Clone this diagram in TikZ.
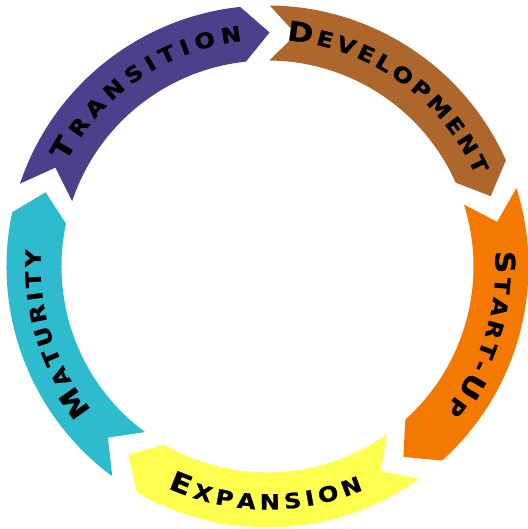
\documentclass[tikz,border=0pt]{standalone}
\usepackage{fontspec}
\newfontfamily\copfont{DejaVu Sans}[FakeStretch=1.15, BoldFeatures={FakeBold=1}]
\newcommand\fstr{1.15}
\newcommand\szb{27}
\newcommand\szs{21}
\newcommand\fntb{\copfont\bfseries\fontsize{27pt}{27pt}\selectfont}
\newcommand\fnts{\copfont\bfseries\fontsize{21pt}{21pt}\selectfont}
\newcommand\lspn{3.5}
\definecolor{cpurple}{RGB}{75,64,140}
\definecolor{cbrown}{RGB}{173,103,44}
\definecolor{corange}{RGB}{243,121,0}
\definecolor{cyellow}{RGB}{255,255,80}
\definecolor{cteal}{RGB}{46,187,205}
\newcommand\Ro{261pt}
\newcommand\Ri{206pt}
\newcommand\Rt{234pt}
% #1 colour, #2 tail angle
\newcommand\arrowseg[2]{%
  \pgfmathsetmacro\cangle{#2-65.5}%
  \pgfmathsetmacro\tangle{#2-72}%
  \pgfmathsetmacro\nangle{#2-6.5}%
  \fill[#1] (#2:\Ro) arc[start angle=#2, end angle=\cangle, radius=\Ro]
     -- (\tangle:\Rt) -- (\cangle:\Ri)
     arc[start angle=\cangle, end angle=#2, radius=\Ri]
     -- (\nangle:\Rt) -- cycle;}
% #1 name, #2 baseline radius, #3 centre angle, #4 direction (1 clockwise, -1 counter),
% #5 list of size/letter/advance width (1/1000 em)
\newcommand\arcword[5]{%
  \gdef\arctot{0}%
  \foreach \f/\ch/\w [count=\k] in {#5}{%
    \edef\fsz{\csname sz\f\endcsname}%
    \pgfmathsetmacro\tmpv{\arctot + \w/1000*\fsz*\fstr + (\k>1)*\lspn}%
    \xdef\arctot{\tmpv}}%
  \pgfmathsetmacro\startang{#3 + (#4)*\arctot/(2*#2)*180/pi}%
  \gdef\arcpos{0}%
  \foreach \f/\ch/\w [count=\k] in {#5}{%
    \edef\fsz{\csname sz\f\endcsname}%
    \pgfmathsetmacro\cw{\w/1000*\fsz*\fstr}%
    \pgfmathsetmacro\myang{\startang - (#4)*(\arcpos + \cw/2)/#2*180/pi}%
    \node[letter, rotate={\myang-(#4)*90}] (#1\k) at (\myang:#2pt) {\csname fnt\f\endcsname\ch};
    \pgfmathsetmacro\tmpv{\arcpos + \cw + \lspn}%
    \xdef\arcpos{\tmpv}}%
}
\begin{document}
\begin{tikzpicture}[letter/.style={anchor=base, inner sep=0pt, outer sep=0pt, text=black}]
\fill[white] (-267.5pt,-262.5pt) rectangle (259.5pt,266.5pt);
\useasboundingbox (-267.5pt,-262.5pt) rectangle (259.5pt,266.5pt);
\arrowseg{cpurple}{161.5}
\arrowseg{cbrown}{89.5}
\arrowseg{corange}{17.5}
\arrowseg{cyellow}{-54.5}
\arrowseg{cteal}{-126.5}
\renewcommand\lspn{5.7}
\arcword{tra}{227}{124.5}{1}{b/T/682,s/R/770,s/A/774,s/N/837,s/S/720,s/I/372,s/T/682,s/I/372,s/O/850,s/N/837}
\renewcommand\lspn{3.5}
\arcword{dev}{227}{54.5}{1}{b/D/830,s/E/683,s/V/774,s/E/683,s/L/637,s/O/850,s/P/733,s/M/995,s/E/683,s/N/837,s/T/682}
\arcword{sta}{228}{-17.5}{1}{b/S/720,s/T/682,s/A/774,s/R/770,s/T/682,s/-/415,b/U/812,s/P/733}
\renewcommand\lspn{4.7}
\arcword{exp}{243}{-90.5}{-1}{b/E/683,s/X/774,s/P/733,s/A/774,s/N/837,s/S/720,s/I/372,s/O/850,s/N/837}
\renewcommand\lspn{3.5}
\arcword{mat}{227}{197.5}{1}{b/M/995,s/A/774,s/T/682,s/U/812,s/R/770,s/I/372,s/T/682,s/Y/724}
\end{tikzpicture}
\end{document}
